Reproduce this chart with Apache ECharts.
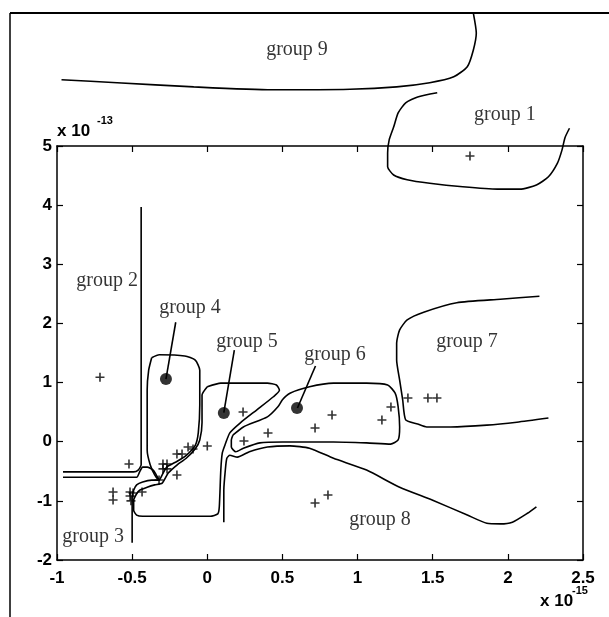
<!DOCTYPE html>
<html>
<head>
<meta charset="utf-8">
<script src="https://cdn.jsdelivr.net/npm/echarts@6/dist/echarts.min.js"></script>
<style>html,body{margin:0;padding:0;background:#fff;}#c{width:609px;height:617px;}</style>
</head>
<body>
<div id="c"></div>
<script>
// ---- data (x in units of 1e-15, y in units of 1e-13) ----
const group9Line = [[-0.97,6.12],[-0.60,6.07],[-0.09,6.00],[0.43,5.95],[0.95,5.96],[1.26,6.00],[1.48,6.07],[1.64,6.17],[1.73,6.34],[1.77,6.62],[1.79,6.91],[1.77,7.25]];
const group1Line = [[1.53,5.90],[1.40,5.83],[1.32,5.73],[1.27,5.56],[1.24,5.32],[1.21,5.10],[1.20,4.88],[1.20,4.65],[1.24,4.51],[1.33,4.43],[1.48,4.37],[1.70,4.31],[1.93,4.27],[2.08,4.27],[2.19,4.34],[2.27,4.48],[2.33,4.71],[2.36,4.93],[2.38,5.14],[2.41,5.30]];
const group2Line = [[-0.96,-0.51],[-0.49,-0.51],[-0.46,-0.48],[-0.44,-0.39],[-0.44,3.97]];
const group3Line = [[-0.96,-0.60],[-0.47,-0.60],[-0.45,-0.51],[-0.43,-0.43],[-0.40,-0.43],[-0.36,-0.48],[-0.34,-0.56],[-0.32,-0.65],[-0.37,-0.65],[-0.43,-0.68],[-0.47,-0.73],[-0.49,-0.82],[-0.50,-0.94],[-0.50,-1.71]];
const group4Line = [[-0.37,1.42],[-0.32,1.47],[-0.15,1.45],[-0.08,1.38],[-0.05,1.21],[-0.05,0.62],[-0.06,0.15],[-0.08,-0.06],[-0.14,-0.23],[-0.20,-0.33],[-0.27,-0.43],[-0.30,-0.56],[-0.32,-0.65],[-0.35,-0.56],[-0.38,-0.39],[-0.40,-0.14],[-0.40,0.87],[-0.39,1.21],[-0.37,1.42]];
const group5Line = [[0.00,0.93],[0.09,0.99],[0.40,0.99],[0.46,0.96],[0.48,0.87],[0.44,0.76],[0.33,0.54],[0.22,0.32],[0.15,0.15],[0.12,-0.04],[0.10,-0.19],[0.09,-0.48],[0.08,-1.10],[0.07,-1.22],[0.02,-1.26],[-0.43,-1.26],[-0.47,-1.24],[-0.49,-1.16],[-0.49,-0.99],[-0.47,-0.88],[-0.45,-0.82],[-0.40,-0.77],[-0.35,-0.73],[-0.30,-0.70],[-0.26,-0.53],[-0.20,-0.39],[-0.14,-0.28],[-0.08,-0.12],[-0.05,0.03],[-0.035,0.32],[-0.035,0.79],[0.00,0.93]];
const group6Line = [[0.17,0.11],[0.24,0.25],[0.40,0.42],[0.47,0.59],[0.50,0.71],[0.55,0.82],[0.68,0.93],[0.84,0.99],[1.06,0.99],[1.20,0.96],[1.25,0.82],[1.27,0.59],[1.28,0.25],[1.27,0.03],[1.22,-0.04],[1.06,-0.02],[0.84,-0.005],[0.73,-0.005],[0.50,-0.005],[0.35,-0.02],[0.24,-0.11],[0.19,-0.17],[0.16,-0.09],[0.16,0.03],[0.17,0.11]];
const group7Line = [[2.21,2.46],[1.95,2.41],[1.66,2.35],[1.44,2.19],[1.33,2.06],[1.28,1.89],[1.26,1.67],[1.26,1.38],[1.28,1.04],[1.30,0.71],[1.32,0.37],[1.40,0.30],[1.46,0.25],[1.62,0.25],[1.86,0.28],[2.06,0.33],[2.27,0.40]];
const group8Line = [[0.11,-1.36],[0.11,-0.82],[0.12,-0.48],[0.13,-0.28],[0.15,-0.23],[0.20,-0.26],[0.28,-0.17],[0.40,-0.09],[0.55,-0.07],[0.68,-0.11],[0.84,-0.28],[1.06,-0.48],[1.28,-0.77],[1.50,-0.99],[1.73,-1.24],[1.86,-1.38],[1.95,-1.39],[2.03,-1.36],[2.13,-1.21],[2.19,-1.10]];
const leader4 = [[-0.21,2.02],[-0.275,1.06]];
const leader5 = [[0.18,1.55],[0.11,0.49]];
const leader6 = [[0.72,1.28],[0.60,0.57]];
const centroids = [[-0.275,1.06],[0.11,0.485],[0.597,0.57]];
const plusPoints = [[-0.714,1.09],[-0.521,-0.377],[-0.627,-0.85],[-0.627,-0.986],[-0.514,-0.85],[-0.514,-0.918],[-0.508,-1.0],[-0.494,-0.867],[-0.434,-0.85],[-0.295,-0.377],[-0.268,-0.377],[-0.295,-0.46],[-0.268,-0.46],[-0.321,-0.648],[-0.202,-0.563],[-0.202,-0.208],[-0.168,-0.208],[-0.128,-0.09],[-0.095,-0.123],[0.0,-0.073],[0.238,0.503],[0.244,0.012],[0.404,0.147],[0.717,0.232],[0.83,0.452],[1.162,0.367],[1.222,0.587],[1.335,0.739],[1.468,0.739],[1.528,0.739],[0.717,-1.036],[0.803,-0.901],[1.748,4.831]];
const groupNames = ['group 9','group 1','group 2','group 4','group 5','group 6','group 7','group 8','group 3'];
const groupLabelPos = [[0.597,6.62],[1.98,5.52],[-0.667,2.73],[-0.115,2.26],[0.264,1.69],[0.85,1.47],[1.728,1.69],[1.149,-1.32],[-0.76,-1.61]];
const xTickValues = [-1,-0.5,0,0.5,1,1.5,2,2.5];
const yTickValues = [-2,-1,0,1,2,3,4,5];

const chart = echarts.init(document.getElementById('c'), null, {renderer:'canvas'});
const lineSeries = (d) => ({type:'line', data:d, showSymbol:false, clip:false, smooth:0.2, silent:true,
  lineStyle:{color:'#000', width:1.6}, z:3});
const tickFont = {fontFamily:'Liberation Sans, Arial, sans-serif', fontSize:17, fontWeight:'bold', color:'#000'};
const PLUS = 'path://M4.1,0H5.9V4.1H10V5.9H5.9V10H4.1V5.9H0V4.1H4.1Z';
const axisCommon = {
  axisLine:{show:true, onZero:false, lineStyle:{color:'#000', width:1.5}},
  axisTick:{show:true, inside:true, length:6, lineStyle:{color:'#000', width:1.2}},
  splitLine:{show:false}
};

const option = {
  animation:false,
  backgroundColor:'#fff',
  grid:{left:57, top:146, width:526, height:414, show:false},
  xAxis:[
    Object.assign({type:'value', min:xTickValues[0], max:xTickValues[xTickValues.length-1], interval:0.5, position:'bottom',
     axisLabel:Object.assign({margin:10}, tickFont)}, axisCommon),
    Object.assign({type:'value', min:xTickValues[0], max:xTickValues[xTickValues.length-1], interval:0.5, position:'top',
     axisLabel:{show:false}}, axisCommon)
  ],
  yAxis:[
    Object.assign({type:'value', min:yTickValues[0], max:yTickValues[yTickValues.length-1], interval:1, position:'left',
     axisLabel:Object.assign({margin:5}, tickFont)}, axisCommon),
    Object.assign({type:'value', min:yTickValues[0], max:yTickValues[yTickValues.length-1], interval:1, position:'right',
     axisLabel:{show:false}}, axisCommon)
  ],
  series:[
    lineSeries(group9Line), lineSeries(group1Line), lineSeries(group2Line), lineSeries(group3Line),
    lineSeries(group4Line), lineSeries(group5Line), lineSeries(group6Line), lineSeries(group7Line),
    lineSeries(group8Line),
    Object.assign(lineSeries(leader4), {smooth:false}), Object.assign(lineSeries(leader5), {smooth:false}), Object.assign(lineSeries(leader6), {smooth:false}),
    {type:'scatter', data:centroids, symbol:'circle', symbolSize:12, itemStyle:{color:'#000'}, silent:true, z:4},
    {type:'scatter', data:plusPoints, symbol:PLUS, symbolSize:9, itemStyle:{color:'#000'}, silent:true, clip:false, z:4},
    {type:'scatter', silent:true, clip:false, symbolSize:1, itemStyle:{color:'transparent'},
     data:groupNames.map((n,i)=>({name:n, value:groupLabelPos[i]})),
     label:{show:true, position:'inside', formatter:p=>p.name, color:'#000', fontFamily:'Liberation Serif, Times New Roman, serif', fontSize:20}, z:5}
  ],
  graphic:[
    {type:'line', shape:{x1:10, y1:13, x2:609, y2:13}, style:{stroke:'#000', lineWidth:2}},
    {type:'line', shape:{x1:10, y1:13, x2:10, y2:617}, style:{stroke:'#000', lineWidth:1.5}},
    {type:'text', left:57, top:123, style:{text:'x 10', font:'bold 17px Liberation Sans, Arial, sans-serif', fill:'#000'}},
    {type:'text', left:97, top:115, style:{text:'-13', font:'bold 11px Liberation Sans, Arial, sans-serif', fill:'#000'}},
    {type:'text', left:540, top:593, style:{text:'x 10', font:'bold 17px Liberation Sans, Arial, sans-serif', fill:'#000'}},
    {type:'text', left:572, top:585, style:{text:'-15', font:'bold 11px Liberation Sans, Arial, sans-serif', fill:'#000'}}
  ]
};
chart.setOption(option);
</script>
</body>
</html>
